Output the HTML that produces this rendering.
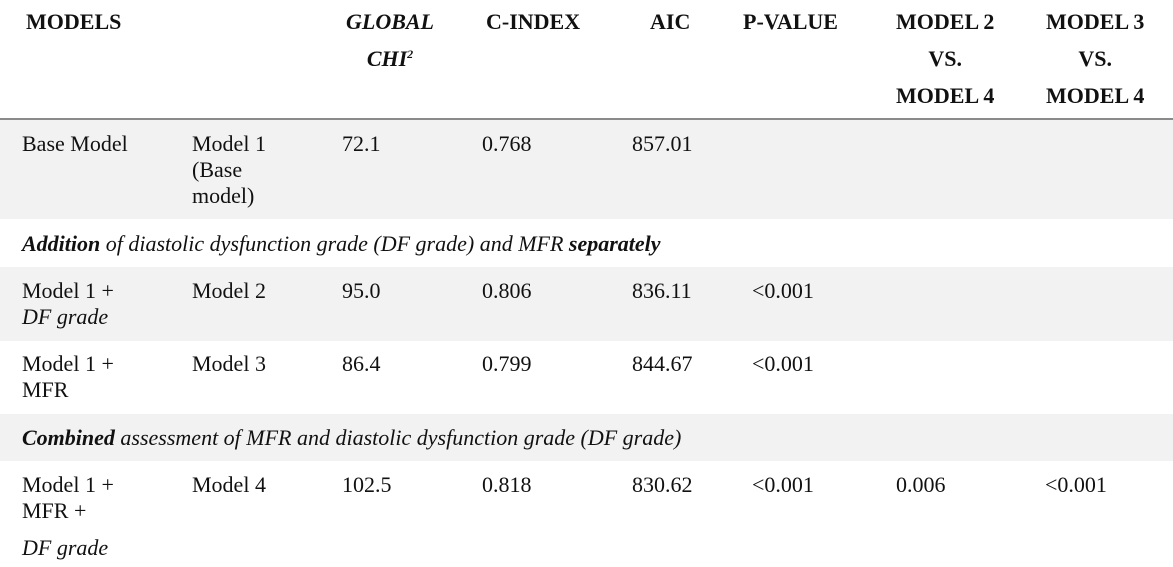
<!DOCTYPE html>
<html><head><meta charset="utf-8"><style>
*{font-family:"Liberation Serif","Noto Serif CJK SC","DejaVu Serif",serif}
body{margin:0;width:1173px;height:567px;background:#fff;position:relative;overflow:hidden;font-size:22px;color:#111}
.b{position:absolute;left:0;width:1173px;background:#f2f2f2}
.t{position:absolute;line-height:26px;white-space:nowrap}
.h{position:absolute;line-height:37px;font-weight:bold;white-space:nowrap;font-size:22px}
sup{font-size:12px;line-height:0;vertical-align:8px}
</style></head><body>
<div class="b" style="top:120px;height:99px"></div>
<div class="b" style="top:267px;height:74px"></div>
<div class="b" style="top:414px;height:47px"></div>
<div style="position:absolute;left:0;top:118px;width:1173px;height:2px;background:#8a8a8a"></div>

<div class="h" style="left:26px;top:3px">MODELS</div>
<div class="h" style="left:340px;top:3px;font-style:italic;text-align:center;width:100px">GLOBAL<br>CHI<sup>2</sup></div>
<div class="h" style="left:486px;top:3px">C-INDEX</div>
<div class="h" style="left:650px;top:3px">AIC</div>
<div class="h" style="left:743px;top:3px">P-VALUE</div>
<div class="h" style="left:896px;top:3px;text-align:center">MODEL 2<br>VS.<br>MODEL 4</div>
<div class="h" style="left:1046px;top:3px;text-align:center">MODEL 3<br>VS.<br>MODEL 4</div>

<div class="t" style="left:22px;top:131px">Base Model</div>
<div class="t" style="left:192px;top:131px">Model 1<br>(Base<br>model)</div>
<div class="t" style="left:342px;top:131px">72.1</div>
<div class="t" style="left:482px;top:131px">0.768</div>
<div class="t" style="left:632px;top:131px">857.01</div>

<div class="t" style="left:22px;top:231px;font-style:italic"><b>Addition</b> of diastolic dysfunction grade (DF grade) and MFR <b>separately</b></div>

<div class="t" style="left:22px;top:278px">Model 1 +<br><i>DF grade</i></div>
<div class="t" style="left:192px;top:278px">Model 2</div>
<div class="t" style="left:342px;top:278px">95.0</div>
<div class="t" style="left:482px;top:278px">0.806</div>
<div class="t" style="left:632px;top:278px">836.11</div>
<div class="t" style="left:752px;top:278px">&lt;0.001</div>

<div class="t" style="left:22px;top:351px">Model 1 +<br>MFR</div>
<div class="t" style="left:192px;top:351px">Model 3</div>
<div class="t" style="left:342px;top:351px">86.4</div>
<div class="t" style="left:482px;top:351px">0.799</div>
<div class="t" style="left:632px;top:351px">844.67</div>
<div class="t" style="left:752px;top:351px">&lt;0.001</div>

<div class="t" style="left:22px;top:425px;font-style:italic"><b>Combined</b> assessment of MFR and diastolic dysfunction grade (DF grade)</div>

<div class="t" style="left:22px;top:472px">Model 1 +<br>MFR +</div>
<div class="t" style="left:22px;top:535px;font-style:italic">DF grade</div>
<div class="t" style="left:192px;top:472px">Model 4</div>
<div class="t" style="left:342px;top:472px">102.5</div>
<div class="t" style="left:482px;top:472px">0.818</div>
<div class="t" style="left:632px;top:472px">830.62</div>
<div class="t" style="left:752px;top:472px">&lt;0.001</div>
<div class="t" style="left:896px;top:472px">0.006</div>
<div class="t" style="left:1045px;top:472px">&lt;0.001</div>
</body></html>
